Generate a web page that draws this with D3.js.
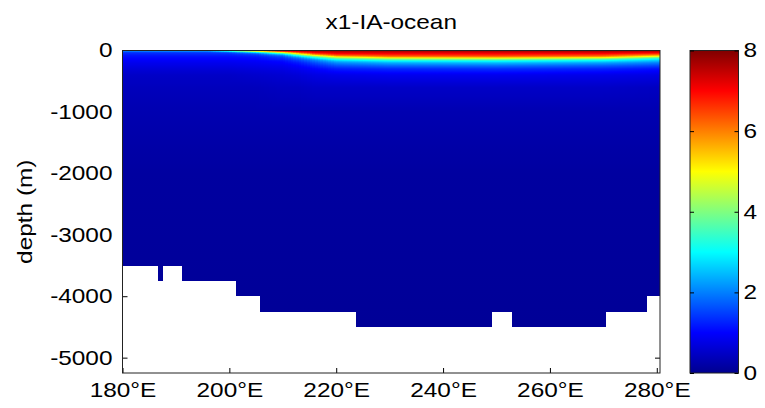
<!DOCTYPE html>
<html><head><meta charset="utf-8">
<script src="https://cdn.jsdelivr.net/npm/d3@7"></script>
<style>
body{margin:0;background:#fff}
text{font-family:"Liberation Sans",Arial,Helvetica,sans-serif;fill:#000}
</style>
</head><body>
<svg id="chart" width="765" height="408"></svg>
<script>
// ---------- data ----------
const chartTitle = "x1-IA-ocean";
const yLabelText = "depth (m)";
const xTicks = [180, 200, 220, 240, 260, 280];
const yTicks = [0, -1000, -2000, -3000, -4000, -5000];
const cTicks = [0, 2, 4, 6, 8];
const lonDomain = [180, 280.6];
const depthDomain = [0, -5250];
const colorDomain = [0, 8];

// depth levels (m, positive down) of the read vertical profiles
const profileDepths = [0, 20, 40, 60, 80, 100, 120, 140, 160, 180, 200, 250, 300, 400, 600, 1000, 2000, 5250];
// longitudes at which profiles were read
const profileLons = [180, 196, 200, 205, 210, 213, 216, 220, 230, 250, 270, 280.6];
// value read at each (lon, depth)
const profileValues = [
  [3.0, 1.6, 1.35, 1.25, 1.15, 1.1, 1.05, 1.0, 0.95, 0.9, 0.85, 0.75, 0.65, 0.5, 0.4, 0.3, 0.15, 0.05],
  [3.5, 1.7, 1.4, 1.3, 1.2, 1.1, 1.05, 1.0, 0.95, 0.9, 0.85, 0.75, 0.65, 0.5, 0.4, 0.3, 0.15, 0.05],
  [6.0, 2.2, 1.5, 1.3, 1.2, 1.1, 1.05, 1.0, 0.95, 0.9, 0.85, 0.75, 0.65, 0.5, 0.4, 0.3, 0.15, 0.05],
  [7.4, 4.0, 2.2, 1.6, 1.35, 1.2, 1.1, 1.05, 1.0, 0.95, 0.9, 0.8, 0.7, 0.55, 0.4, 0.3, 0.15, 0.05],
  [7.7, 6.3, 4.2, 2.8, 2.0, 1.6, 1.4, 1.25, 1.15, 1.05, 1.0, 0.85, 0.75, 0.6, 0.45, 0.3, 0.15, 0.05],
  [7.8, 7.0, 6.0, 4.6, 3.4, 2.6, 2.0, 1.7, 1.5, 1.35, 1.2, 1.0, 0.85, 0.65, 0.45, 0.3, 0.15, 0.05],
  [7.8, 7.4, 6.9, 6.2, 5.0, 3.8, 3.0, 2.4, 2.0, 1.8, 1.6, 1.25, 1.0, 0.75, 0.5, 0.3, 0.15, 0.05],
  [7.8, 7.5, 7.2, 6.8, 6.2, 5.2, 4.2, 3.4, 2.8, 2.4, 2.1, 1.6, 1.2, 0.8, 0.5, 0.3, 0.15, 0.05],
  [7.8, 7.5, 7.2, 6.9, 6.5, 6.0, 5.0, 4.0, 3.3, 2.8, 2.4, 1.8, 1.3, 0.85, 0.5, 0.3, 0.15, 0.05],
  [7.8, 7.5, 7.2, 6.9, 6.6, 6.1, 5.2, 4.2, 3.4, 2.9, 2.5, 1.85, 1.35, 0.85, 0.5, 0.3, 0.15, 0.05],
  [7.8, 7.5, 7.2, 6.8, 6.4, 5.8, 4.8, 3.8, 3.1, 2.7, 2.3, 1.7, 1.25, 0.8, 0.5, 0.3, 0.15, 0.05],
  [7.8, 7.4, 7.0, 6.4, 5.6, 4.6, 3.6, 3.0, 2.6, 2.3, 2.0, 1.5, 1.1, 0.75, 0.45, 0.3, 0.15, 0.05]
];
// sea-floor (masked) steps: segment edges in longitude and bottom depth of each segment
const bathyEdges = [180, 186.4, 187.5, 190.9, 201.0, 205.5, 223.5, 249.2, 252.7, 270.5, 278.2, 280.6];
const bathyDepths = [-3500, -3750, -3500, -3750, -4000, -4250, -4500, -4250, -4500, -4250, -4000];
// jet colormap anchors
const jetStops = [0, 1, 3, 5, 7, 8];
const jetColors = ["#00008f", "#0000ff", "#00ffff", "#ffff00", "#ff0000", "#800000"];

// ---------- layout ----------
const L = 122.5, R = 660, T = 50.5, B = 373;
const cbL = 690, cbR = 738.5;
const fs = 20, sx = 1.22;

const svg = d3.select("#chart");
const defs = svg.append("defs");
const x = d3.scaleLinear().domain(lonDomain).range([L, R]);
const y = d3.scaleLinear().domain(depthDomain).range([T, B]);
const jet = d3.scaleLinear().domain(jetStops).range(jetColors).clamp(true);

// value lookup via scales
const depthScales = profileValues.map(row => d3.scaleLinear().domain(profileDepths).range(row).clamp(true));
function valueAt(lon, depth) {
  const vals = depthScales.map(s => s(depth));
  return d3.scaleLinear().domain(profileLons).range(vals).clamp(true)(lon);
}
// fine depth samples for gradient stops
const fineDepths = [];
for (let i = 0; i < profileDepths.length - 1; i++) {
  const a = profileDepths[i], b = profileDepths[i + 1];
  for (let k = 0; k < 6; k++) fineDepths.push(a + (b - a) * k / 6);
}
fineDepths.push(profileDepths[profileDepths.length - 1]);

// ---------- axes ticks (below data, like MATLAB layer bottom) ----------
const gAxes = svg.append("g");
const xAxis = d3.axisBottom(x).tickValues(xTicks).tickSize(-5).tickPadding(10).tickFormat(d => d + "°E");
const gx = gAxes.append("g").attr("transform", `translate(0,${B})`).call(xAxis);
gx.select(".domain").remove();
gx.selectAll("text").style("font-size", fs + "px").attr("transform", `scale(${sx},1)`);

const yAxis = d3.axisLeft(y).tickValues(yTicks).tickSize(-5).tickPadding(10).tickFormat(d => String(d));
const gy = gAxes.append("g").attr("transform", `translate(${L},0)`).call(yAxis);
gy.select(".domain").remove();
gy.selectAll("text").style("font-size", fs + "px").attr("x", -10 / sx).attr("transform", `scale(${sx},1)`);

// ---------- field ----------
const gField = svg.append("g").attr("shape-rendering", "crispEdges");
const step = 0.5;
const cols = d3.range(lonDomain[0], lonDomain[1], step);
cols.forEach((c, i) => {
  const c1 = Math.min(c + step, lonDomain[1]);
  const mid = (c + c1) / 2;
  const grad = defs.append("linearGradient").attr("id", "col" + i)
    .attr("gradientUnits", "userSpaceOnUse")
    .attr("x1", 0).attr("x2", 0).attr("y1", y(0)).attr("y2", y(depthDomain[1]));
  fineDepths.forEach(d => {
    grad.append("stop")
      .attr("offset", (y(-d) - y(0)) / (y(depthDomain[1]) - y(0)))
      .attr("stop-color", jet(valueAt(mid, d)));
  });
  gField.append("rect")
    .attr("x", x(c)).attr("y", y(0))
    .attr("width", x(c1) - x(c) + (c1 < lonDomain[1] ? 1 : 0))
    .attr("height", y(depthDomain[1]) - y(0))
    .attr("fill", `url(#col${i})`);
});
// sea-floor mask
gField.selectAll("rect.floor").data(bathyDepths).enter().append("rect")
  .attr("class", "floor")
  .attr("x", (d, i) => x(bathyEdges[i]))
  .attr("width", (d, i) => x(bathyEdges[i + 1]) - x(bathyEdges[i]) + 1)
  .attr("y", d => y(d))
  .attr("height", d => y(depthDomain[1]) - y(d) + 1)
  .attr("fill", "#fff");

// ticks visible on the white sea-floor area
const gy2 = svg.append("g").attr("transform", `translate(${L},0)`)
  .call(d3.axisLeft(y).tickValues([-4000, -5000]).tickSize(-5).tickFormat(""));
gy2.select(".domain").remove();
const gy3 = svg.append("g").attr("transform", `translate(${R},0)`)
  .call(d3.axisRight(y).tickValues([-5000]).tickSize(-5).tickFormat(""));
gy3.select(".domain").remove();
const gx2 = svg.append("g").attr("transform", `translate(0,${B})`)
  .call(d3.axisBottom(x).tickValues(xTicks).tickSize(-5).tickFormat(""));
gx2.select(".domain").remove();

// box
svg.append("rect").attr("x", L).attr("y", T).attr("width", R - L).attr("height", B - T)
  .attr("fill", "none").attr("stroke", "#222").attr("stroke-width", 1);

// ---------- title & labels ----------
svg.append("text").attr("text-anchor", "middle")
  .attr("transform", `translate(${(L + R) / 2},29) scale(${sx},1)`)
  .style("font-size", fs + "px").text(chartTitle);
svg.append("text").attr("text-anchor", "middle")
  .attr("transform", `translate(32,${(T + B) / 2}) rotate(-90) scale(${sx},1)`)
  .style("font-size", fs + "px").text(yLabelText);

// ---------- colorbar ----------
const cy = d3.scaleLinear().domain(colorDomain).range([B, T]);
const cg = defs.append("linearGradient").attr("id", "cbar")
  .attr("x1", 0).attr("x2", 0).attr("y1", 1).attr("y2", 0);
jetStops.forEach((s, i) => cg.append("stop").attr("offset", s / 8).attr("stop-color", jetColors[i]));
svg.append("rect").attr("x", cbL).attr("y", T).attr("width", cbR - cbL).attr("height", B - T)
  .attr("fill", "url(#cbar)").attr("stroke", "#222");
const gc = svg.append("g").attr("transform", `translate(${cbR},0)`)
  .call(d3.axisRight(cy).tickValues(cTicks).tickSize(-4).tickPadding(5));
gc.select(".domain").remove();
gc.selectAll("text").style("font-size", fs + "px").attr("x", 5 / sx).attr("transform", `scale(${sx},1)`);
const gc2 = svg.append("g").attr("transform", `translate(${cbL},0)`)
  .call(d3.axisLeft(cy).tickValues(cTicks).tickSize(-4).tickFormat(""));
gc2.select(".domain").remove();
svg.selectAll(".tick line").attr("stroke", "#000");
</script>
</body></html>
